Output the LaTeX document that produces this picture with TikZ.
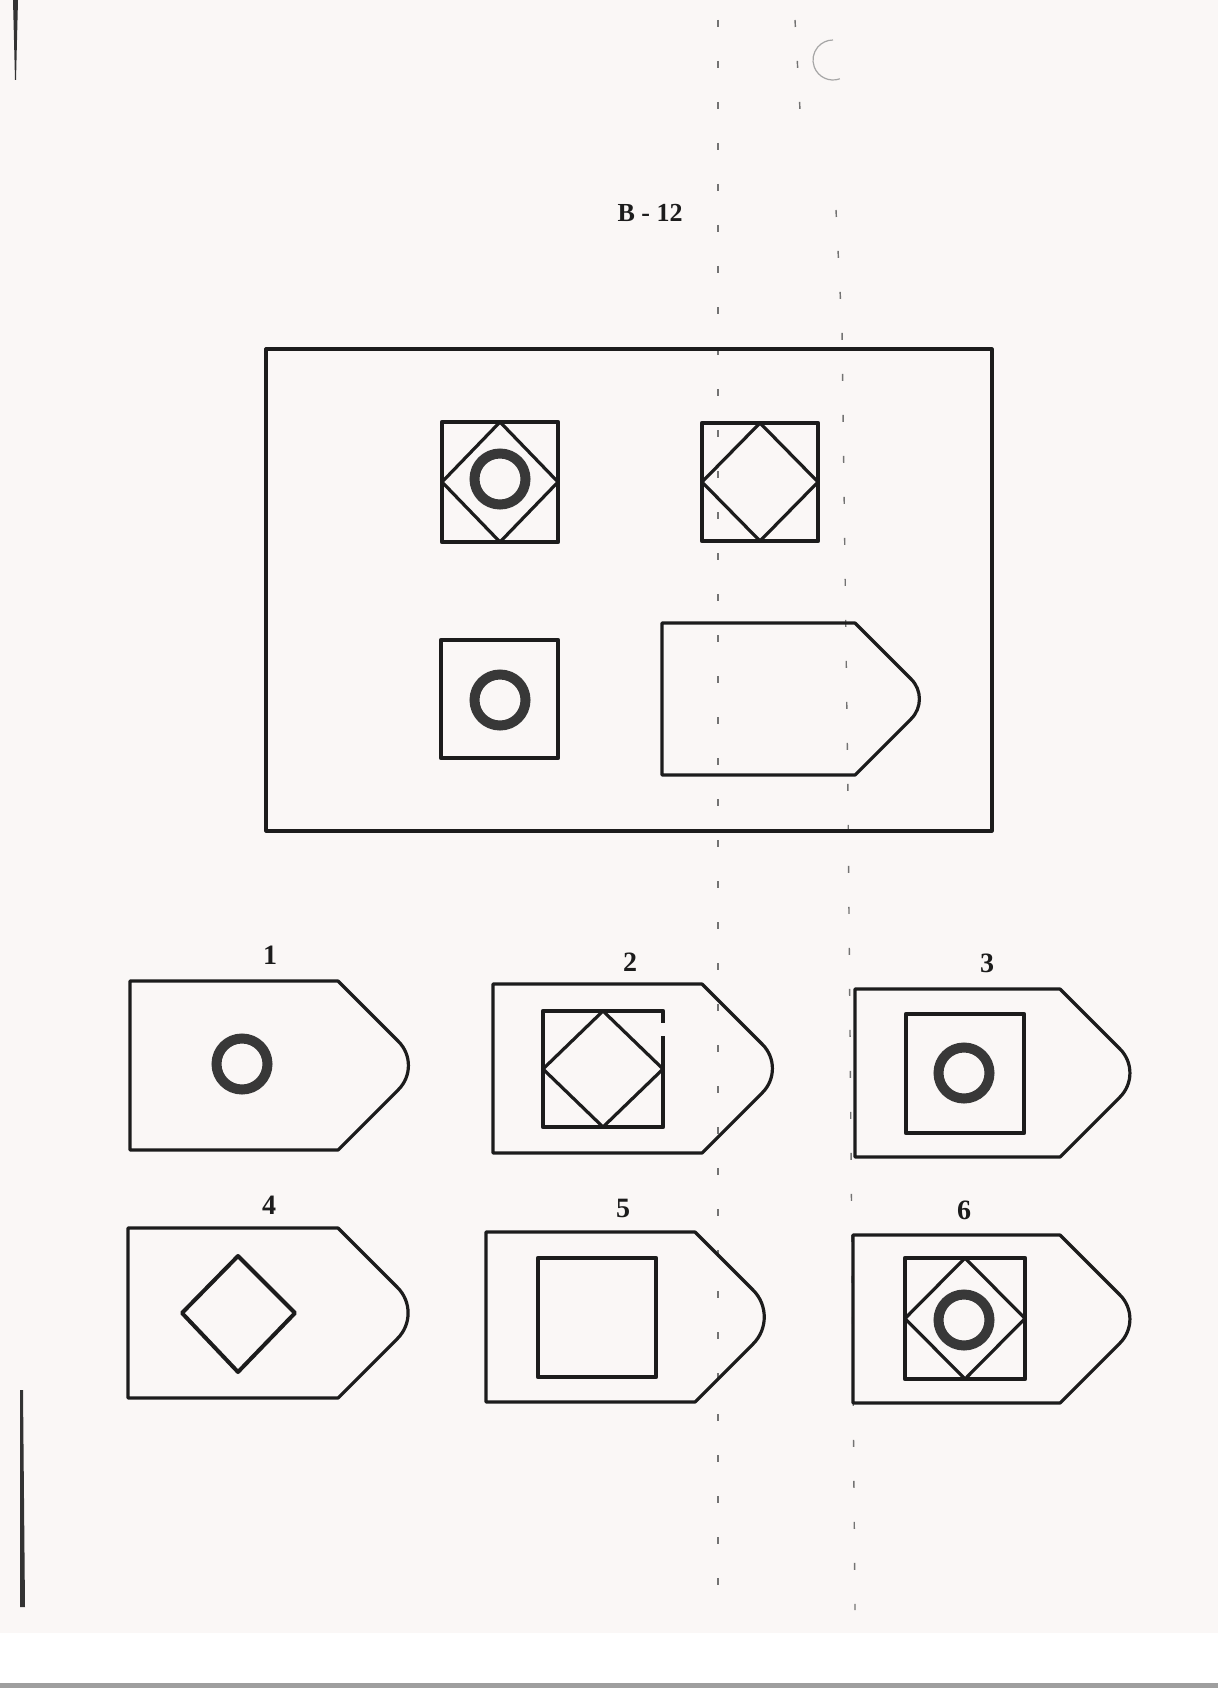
\documentclass[tikz,border=0pt]{standalone}
\usepackage{fontspec}
\setmainfont{Liberation Serif}
\usetikzlibrary{calc}
\definecolor{paper}{HTML}{FAF7F6}
\definecolor{ink}{HTML}{1C1C1C}
\definecolor{ringc}{HTML}{383838}
\tikzset{
  frame/.style={draw=ink, line width=3.2pt, line join=round},
  tagline/.style={draw=ink, line width=3.2pt, line join=round},
  boxline/.style={draw=ink, line width=4.6pt, line join=round},
  diagline/.style={draw=ink, line width=3.2pt, line join=round},
  ringline/.style={draw=ringc, line width=10pt},
  lbl/.style={font=\fontsize{28}{32}\selectfont\bfseries, inner sep=0pt, text=ink},
  titlelbl/.style={font=\fontsize{26}{30}\selectfont\bfseries, inner sep=0pt, text=ink},
  foldline/.style={draw=black!55, line width=1.4pt, dash pattern=on 7pt off 34pt},
}
% tag shape: left, top, corner x, bottom, tip radius
\newcommand{\tagshape}[5]{%
  \draw[tagline] (#1,#2) -- (#3,#2)
    -- ({#3+(#4-#2)/2-#5*0.7071},{(#2+#4)/2-#5*0.7071})
    arc[start angle=-45, end angle=45, radius=#5]
    -- (#3,#4) -- (#1,#4) -- cycle;}
\newcommand{\ringat}[2]{\draw[ringline] (#1,#2) circle[radius=25.5];}
\newcommand{\inscribed}[4]{%
  \draw[diagline] ({(#1+#3)/2},#2) -- (#3,{(#2+#4)/2}) -- ({(#1+#3)/2},#4) -- (#1,{(#2+#4)/2}) -- cycle;}
\begin{document}
\begin{tikzpicture}[x=1pt,y=-1pt]
\useasboundingbox (0,0) rectangle (1218,1688);
% paper
\fill[paper] (0,0) rectangle (1218,1633);
\fill[white] (0,1633) rectangle (1218,1683);
\fill[gray!75] (0,1683) rectangle (1218,1688);
% scan marks
\draw[foldline] (718,20) -- (718,1610);
\draw[foldline] (795,20) -- (800,110) (836,210) -- (842,330) -- (848,800) -- (855,1610);
\draw[gray!70, line width=1.2pt] (833,60) ++(70:20) arc[start angle=70, end angle=270, radius=20];
\fill[black!80] (13,0) -- (18,0) -- (16,80) -- (15,80) -- cycle;
\fill[black!80] (20,1390) -- (23,1390) -- (25,1607) -- (20,1607) -- cycle;

% title
\node[titlelbl] (title) at (650,213) {B - 12};

% problem frame
\draw[frame] (266,349) rectangle (992,831);
\draw[boxline] (442,422) rectangle (558,542);
\inscribed{442}{422}{558}{542}
\ringat{500}{479}
\draw[boxline] (702,423) rectangle (818,541);
\inscribed{702}{423}{818}{541}
\draw[boxline] (441,640) rectangle (558,758);
\ringat{500}{700}
\tagshape{662}{623}{855}{775}{28}

% option 1
\node[lbl] (l1) at (270,955) {1};
\tagshape{130}{981}{338}{1150}{34}
\ringat{242}{1064}

% option 2
\node[lbl] (l2) at (630,962) {2};
\tagshape{493}{984}{702}{1153}{34}
\draw[boxline] (663,1036) -- (663,1127) -- (543,1127) -- (543,1011) -- (663,1011) -- (663,1023);
\inscribed{543}{1011}{663}{1127}

% option 3
\node[lbl] (l3) at (987,963) {3};
\tagshape{855}{989}{1060}{1157}{34}
\draw[boxline] (906,1014) rectangle (1024,1133);
\ringat{964}{1073}

% option 4
\node[lbl] (l4) at (269,1205) {4};
\tagshape{128}{1228}{338}{1398}{36}
\draw[boxline, line width=4pt] (238,1256) -- (295,1313) -- (238,1372) -- (182,1313) -- cycle;

% option 5
\node[lbl] (l5) at (623,1208) {5};
\tagshape{486}{1232}{695}{1402}{38}
\draw[boxline] (538,1258) rectangle (656,1377);

% option 6
\node[lbl] (l6) at (964,1210) {6};
\tagshape{853}{1235}{1060}{1403}{34}
\draw[boxline] (905,1258) rectangle (1025,1379);
\inscribed{905}{1258}{1025}{1379}
\ringat{964}{1320}
\end{tikzpicture}
\end{document}
